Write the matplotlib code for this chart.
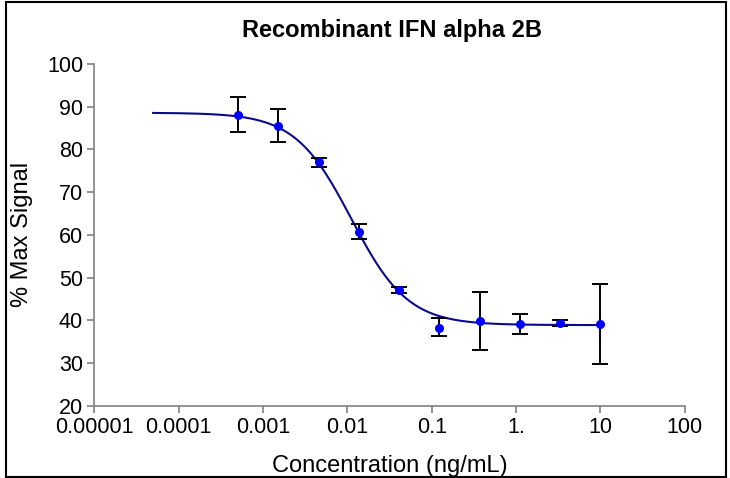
import numpy as np
import matplotlib
matplotlib.use("Agg")
from matplotlib import pyplot as plt
from matplotlib.patches import Rectangle

plt.rcParams['font.family'] = ['Liberation Sans', 'DejaVu Sans']

# measured points (3-fold dilution series)
conc = [0.000508, 0.00152, 0.00457, 0.0137, 0.0412, 0.123, 0.370, 1.11, 3.33, 10.0]
signal = [88.1, 85.6, 77.0, 60.8, 47.1, 38.3, 39.8, 39.2, 39.3, 39.1]
err_lo = [3.9, 3.9, 1.0, 1.8, 0.6, 2.0, 6.8, 2.4, 0.7, 9.3]
err_hi = [4.1, 3.8, 1.0, 1.8, 0.6, 2.2, 6.9, 2.4, 0.7, 9.4]

# fitted 4PL parameters
fit_top = 88.6
fit_bottom = 38.9
fit_ec50 = 0.0112
fit_hill = 1.3
fit_range = (5e-5, 10.0)

xticks = [1e-5, 1e-4, 1e-3, 1e-2, 1e-1, 1, 10, 100]
xticklabels = ["0.00001", "0.0001", "0.001", "0.01", "0.1", "1.", "10", "100"]
yticks = [20, 30, 40, 50, 60, 70, 80, 90, 100]

fig = plt.figure(figsize=(7.3, 4.78), dpi=100)
ax = fig.add_axes([0.129, 0.151, 0.809, 0.715])

xs = np.logspace(np.log10(fit_range[0]), np.log10(fit_range[1]), 300)
ys = fit_bottom + (fit_top - fit_bottom) / (1 + (xs / fit_ec50) ** fit_hill)
ax.plot(xs, ys, color="#0a0a8a", lw=1.5, zorder=2)

ax.errorbar(conc, signal, yerr=[err_lo, err_hi], fmt="none", ecolor="black",
            elinewidth=1.4, capsize=6, capthick=1.4, zorder=3)
ax.plot(conc, signal, "o", color="#0000ff", ms=5.5, zorder=4)

ax.set_xscale("log")
ax.set_xlim(1e-5, 100)
ax.set_ylim(20, 100)
ax.set_xticks(xticks)
ax.set_xticklabels(xticklabels)
ax.minorticks_off()
ax.set_yticks(yticks)

for s in ["top", "right"]:
    ax.spines[s].set_visible(False)
for s in ["left", "bottom"]:
    ax.spines[s].set_color("#808080")
    ax.spines[s].set_linewidth(1.2)
ax.tick_params(axis="both", color="#808080", length=5, width=1.2,
               labelsize=15.5, pad=3)

ax.set_xlabel("Concentration (ng/mL)", fontsize=17, labelpad=12)
ax.set_ylabel("% Max Signal", fontsize=17, labelpad=10)
fig.text(0.537, 0.936, "Recombinant IFN alpha 2B", ha="center", va="center",
         fontsize=17, fontweight="bold")

fig.patches.append(Rectangle((0.008, 0.003), 0.986, 0.993, transform=fig.transFigure,
                             fill=False, edgecolor="black", lw=1.5))

fig.savefig("out.png", dpi=100)
